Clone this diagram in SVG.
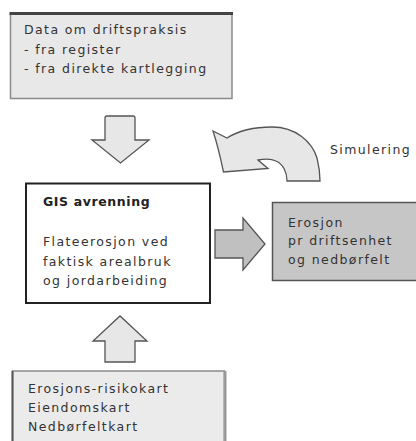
<svg xmlns="http://www.w3.org/2000/svg" width="416" height="441" viewBox="0 0 416 441">
  <style>
    .txt { font-family: "DejaVu Sans", "Liberation Sans", sans-serif; font-size: 12.5px; fill: #333; letter-spacing: 1.4px; }
    .bold { font-weight: bold; letter-spacing: 0.6px; fill: #222; }
    .arrow { stroke: #555; stroke-width: 1.3; stroke-linejoin: miter; }
    .light { fill: #e7e7e7; }
    .dark { fill: #c0c0c0; }
  </style>
  <rect width="416" height="441" fill="#ffffff"/>

  <!-- Input: farming practice data -->
  <g id="driftspraksis">
    <rect x="10.5" y="13" width="221.5" height="85.5" fill="#e8e8e8" stroke="#8a8a8a" stroke-width="1.5"/>
    <line x1="9.5" y1="13.5" x2="233" y2="13.5" stroke="#444" stroke-width="3"/>
    <text class="txt" x="24" y="34">Data om driftspraksis</text>
    <text class="txt" x="24" y="53.5">- fra register</text>
    <text class="txt" x="24" y="73">- fra direkte kartlegging</text>
  </g>

  <!-- Central GIS runoff model -->
  <g id="gis-avrenning">
    <rect x="26" y="183.5" width="184" height="119.5" fill="#ffffff" stroke="#222" stroke-width="2"/>
    <text class="txt bold" x="43" y="206">GIS avrenning</text>
    <text class="txt" x="43" y="246">Flateerosjon ved</text>
    <text class="txt" x="43" y="265.5">faktisk arealbruk</text>
    <text class="txt" x="43" y="285">og jordarbeiding</text>
  </g>

  <!-- Output: erosion per unit -->
  <g id="erosjon">
    <rect x="272.5" y="202.5" width="150" height="78" fill="#c6c6c6" stroke="#555" stroke-width="1.5"/>
    <text class="txt" x="288" y="226.5">Erosjon</text>
    <text class="txt" x="288" y="245">pr driftsenhet</text>
    <text class="txt" x="288" y="263.5">og nedbørfelt</text>
  </g>

  <!-- Input: map layers -->
  <g id="kartgrunnlag">
    <rect x="12.5" y="371" width="212" height="80" fill="#ebebeb" stroke="#8a8a8a" stroke-width="1.5"/>
    <line x1="12.5" y1="371" x2="12.5" y2="441" stroke="#555" stroke-width="2"/>
    <line x1="225" y1="371" x2="225" y2="441" stroke="#9a9a9a" stroke-width="3"/>
    <text class="txt" x="28" y="393">Erosjons-risikokart</text>
    <text class="txt" x="28" y="412">Eiendomskart</text>
    <text class="txt" x="28" y="431">Nedbørfeltkart</text>
  </g>

  <!-- Simulation label -->
  <g id="simulering">
    <text class="txt" x="330" y="154">Simulering</text>
  </g>

  <!-- Block arrows -->
  <g id="connectors">
    <path class="arrow light" d="M105,140 L105,118 Q105,116 107,116 L133,116 Q135,116 135,118 L135,140 L149,140 L120.5,163 L92,140 Z"/>
    <path class="arrow light" d="M105,341 L93,341 L120,316 L147,341 L135,341 L135,362 L105,362 Z"/>
    <path class="arrow dark" d="M215,230 L243,230 L243,218 L265,244 L243,270 L243,258 L215,258 Z"/>
    <path class="arrow light" d="M213,131 L227,138 C238,131 252,127 272,127 C296,127 312,142 317,158 C319,166 320,172 320,181 L287,181 C287,172 283,164 276,161 C270,158 263,159 258,160 L268,168.5 L223.5,172 C221,160 218,146 213,131 Z"/>
  </g>
</svg>
